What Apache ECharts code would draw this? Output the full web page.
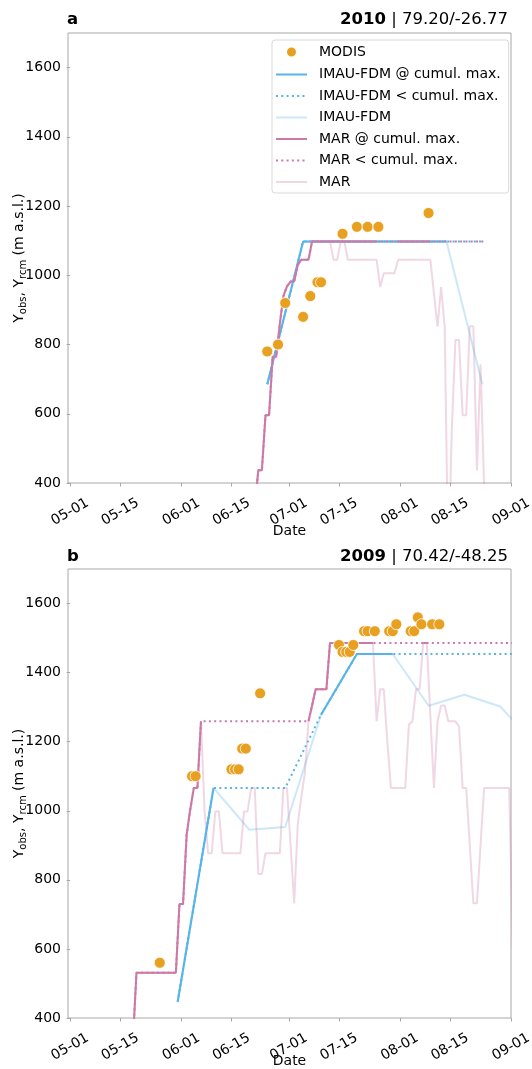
<!DOCTYPE html>
<html><head><meta charset="utf-8">
<script src="https://cdn.jsdelivr.net/npm/echarts@6/dist/echarts.min.js"></script>
<style>html,body{margin:0;padding:0;background:#fff}#c{width:532px;height:1069px}</style>
</head><body><div id="c"></div>
<script>
const FONT = 'DejaVu Sans';
const DAY = 86400000;
const TOL = 60; // a model day counts as "at cumul. max." when within this many metres of it

// ---------------- panel a : 2010 ----------------
const aYear = 2010;
const aLetter = 'a';
const aCoords = '79.20/-26.77';
const aModisDates = ['06-25','06-28','06-30','07-05','07-07','07-09','07-10','07-16','07-20','07-23','07-26','08-09'];
const aModisElev  = [780, 800, 920, 880, 940, 980, 980, 1120, 1140, 1140, 1140, 1180];
const aImauDates  = ['06-25','07-05','07-15','07-25','08-04','08-14','08-24'];
const aImauElev   = [685, 1098, 1098, 1098, 1098, 1098, 685];
const aImauCumMax = [685, 1098, 1098, 1098, 1098, 1098, 1098];
const aMarFirstDay = '06-21';
const aMarElev = [330,437,437,596,596,765,765,860,940,968,982,982,1030,1045,1045,1045,
  1098,1098,1098,1098,1098,1098, 1045,1045, 1098,1098,
  1045,1045,1045,1045,1045,1045,1045,1045,1045,
  966,1006,1006,1006,1006,
  1045,1045,1045,1045,1045,1045,1045,1045,1045,1045,
  948,852,966,852,150,560,813,813,596,596,853,853,436,743,390];
const aMarCumMax = [330,437,437,596,596,765,765,860,940,968,982,982,1030,1045,1045,1045,
  1098,1098,1098,1098,1098,1098,1098,1098,1098,1098,
  1098,1098,1098,1098,1098,1098,1098,1098,1098,
  1098,1098,1098,1098,1098,
  1098,1098,1098,1098,1098,1098,1098,1098,1098,1098,
  1098,1098,1098,1098,1098,1098,1098,1098,1098,1098,1098,1098,1098,1098,1098];

// ---------------- panel b : 2009 ----------------
const bYear = 2009;
const bLetter = 'b';
const bCoords = '70.42/-48.25';
const bModisDates = ['05-26','06-04','06-05','06-15','06-16','06-17','06-18','06-19','06-23',
  '07-15','07-16','07-17','07-18','07-19','07-22','07-23','07-25','07-29','07-30','07-31',
  '08-04','08-05','08-06','08-07','08-10','08-12'];
const bModisElev = [560,1100,1100,1120,1120,1120,1180,1180,1340,
  1480,1460,1460,1460,1480,1520,1520,1520,1520,1520,1540,
  1520,1520,1560,1540,1540,1540];
const bImauDates  = ['05-31','06-10','06-20','06-30','07-10','07-20','07-30','08-09','08-19','08-29','09-08'];
const bImauElev   = [447,1066,945,953,1278,1454,1454,1304,1336,1302,1190];
const bImauCumMax = [447,1066,1066,1066,1278,1454,1454,1454,1454,1454,1454];
const bMarFirstDay = '05-18';
const bMarElev = [330,
  531,531,531,531,531,531,531,531,531,531,531,531,
  730,730,930,1003,1066,1066,1259,
  1000,877,877,998,998,877,877,877,877,877,877,
  998,998,1066,1066,817,817,877,877,877,877,877,
  1066,1066,900,732,960,1040,1110,1259,
  1305,1352,1352,1352,1352,
  1486,1486,1486,1486,1486,1486,1486,1486,1486,1486,1486,1486,1486,
  1259,1352,1352,1200,1066,1066,1066,1066,1066,
  1249,1259,1352,1352,1486,1486,1276,1066,
  1259,1305,1305,1259,1259,1259,1244,1066,1066,
  900,732,732,900,1066,
  1066,1066,1066,1066,1066,1066,1066,
  600];
const bMarCumMax = [330,
  531,531,531,531,531,531,531,531,531,531,531,531,
  730,730,930,1003,1066,1066,
  1259,1259,1259,1259,1259,1259,1259,1259,1259,1259,1259,1259,1259,1259,1259,1259,
  1259,1259,1259,1259,1259,1259,1259,1259,1259,1259,1259,1259,1259,1259,1259,
  1305,1352,1352,1352,1352,
  1486,1486,1486,1486,1486,1486,1486,1486,1486,1486,1486,1486,1486,
  1486,1486,1486,1486,1486,1486,1486,1486,1486,1486,1486,1486,1486,
  1486,1486,1486,1486,1486,1486,1486,1486,1486,1486,1486,1486,1486,
  1486,1486,1486,1486,1486,1486,1486,1486,1486,1486,1486,1486,1486];

// ---------------- axes ----------------
const xTickDates = ['05-01','05-15','06-01','06-15','07-01','07-15','08-01','08-15','09-01'];
const yTicks = [400,600,800,1000,1200,1400,1600];
const legendNames = ['MODIS','IMAU-FDM @ cumul. max.','IMAU-FDM < cumul. max.','IMAU-FDM',
  'MAR @ cumul. max.','MAR < cumul. max.','MAR'];

const C_MODIS = '#e8a020', C_IMAU = '#56b4e9', C_MAR = '#cc79a7';
const C_IMAU_L = 'rgba(86,180,233,0.3)', C_MAR_L = 'rgba(204,121,167,0.3)';
const DOT = [2, 3.3];

const panels = [
  {year:aYear, letter:aLetter, coords:aCoords, modisDates:aModisDates, modisElev:aModisElev,
   imauDates:aImauDates, imauElev:aImauElev, imauMax:aImauCumMax,
   marFirst:aMarFirstDay, marElev:aMarElev, marMax:aMarCumMax,
   grid:{left:68, top:33, width:443, height:450}, titleTop:11, dateGap:41},
  {year:bYear, letter:bLetter, coords:bCoords, modisDates:bModisDates, modisElev:bModisElev,
   imauDates:bImauDates, imauElev:bImauElev, imauMax:bImauCumMax,
   marFirst:bMarFirstDay, marElev:bMarElev, marMax:bMarCumMax,
   grid:{left:68, top:569, width:443, height:449}, titleTop:548, dateGap:36}
];

const pad = n => (n < 10 ? '0' : '') + n;
const grids = [], xAxes = [], yAxes = [], titles = [], series = [];

panels.forEach((p, i) => {
  const t0 = Date.UTC(p.year, 4, 1);
  // x position = days since 05-01 of the panel's year
  const dd = s => { const [m, d] = s.split('-').map(Number); return (Date.UTC(p.year, m - 1, d) - t0) / DAY; };
  const marD0 = dd(p.marFirst);
  const marX = p.marElev.map((_, k) => marD0 + k + 0.5);
  const imauX = p.imauDates.map(dd);
  const pair = (x, arr) => arr.map((v, k) => [x[k], v]);
  const atMax = (x, raw, mx) => mx.map((v, k) => [x[k], raw[k] >= v - TOL ? v : null]);

  grids.push(Object.assign({show:true, borderColor:'#a8a8a8', borderWidth:1, containLabel:false, outerBoundsMode:'none'}, p.grid));
  const xt = xTickDates.map(dd);
  xAxes.push({
    type:'value', gridIndex:i,
    min: -0.6, max: dd('09-01'),
    name:'Date', nameLocation:'middle', nameGap:p.dateGap, nameMoveOverlap:false,
    nameTextStyle:{fontFamily:FONT, fontSize:14, color:'#000'},
    axisLine:{show:false},
    axisTick:{show:true, length:3.5, lineStyle:{color:'#a8a8a8'}, customValues:xt},
    splitLine:{show:false},
    axisLabel:{customValues:xt, rotate:30, align:'center', verticalAlign:'middle', margin:29,
      fontFamily:FONT, fontSize:14, color:'#000', hideOverlap:false,
      formatter: v => { const d = new Date(t0 + Math.round(v) * DAY); return pad(d.getUTCMonth() + 1) + '-' + pad(d.getUTCDate()); }}
  });
  yAxes.push({
    type:'value', gridIndex:i, min:400, max:1700, interval:200,
    name:'{m|Y}{s|obs}{m|, Y}{s|rcm}{m| (m a.s.l.)}', nameLocation:'middle', nameGap:40, nameRotate:90,
    nameMoveOverlap:false,
    nameTextStyle:{fontFamily:FONT, fontSize:14, color:'#000',
      rich:{m:{fontFamily:FONT, fontSize:14, lineHeight:18, color:'#000', verticalAlign:'middle'},
            s:{fontFamily:FONT, fontSize:10, lineHeight:8, color:'#000', verticalAlign:'bottom'}}},
    axisLine:{show:false},
    axisTick:{show:true, length:3.5, lineStyle:{color:'#a8a8a8'}, customValues:yTicks},
    splitLine:{show:false},
    axisLabel:{customValues:yTicks, margin:7, fontFamily:FONT, fontSize:14, color:'#000',
      formatter: v => String(v)}
  });
  titles.push({text:p.letter, left:67, top:p.titleTop, padding:0,
    textStyle:{fontFamily:FONT, fontSize:16.5, fontWeight:'bold', color:'#000'}});
  titles.push({text:'{y|' + p.year + '} | ' + p.coords, right:24, top:p.titleTop, padding:0,
    textStyle:{fontFamily:FONT, fontSize:16.5, fontWeight:'normal', color:'#000',
      rich:{y:{fontFamily:FONT, fontSize:16.5, fontWeight:'bold', color:'#000'}}}});

  const line = (name, data, color, dashed, z) => ({
    type:'line', name, data, xAxisIndex:i, yAxisIndex:i, z,
    showSymbol:false, symbol:'none', connectNulls:false, clip:true, silent:true,
    itemStyle:{color, opacity:0}, lineStyle:{color, width:2, type: dashed ? DOT : 'solid', cap:'butt'}
  });
  series.push(line('IMAU-FDM', pair(imauX, p.imauElev), C_IMAU_L, false, 1));
  series.push(line('MAR', pair(marX, p.marElev), C_MAR_L, false, 1));
  series.push(line('IMAU-FDM < cumul. max.', pair(imauX, p.imauMax), C_IMAU, true, 2));
  series.push(line('IMAU-FDM @ cumul. max.', atMax(imauX, p.imauElev, p.imauMax), C_IMAU, false, 3));
  series.push(line('MAR < cumul. max.', pair(marX, p.marMax), C_MAR, true, 4));
  series.push(line('MAR @ cumul. max.', atMax(marX, p.marElev, p.marMax), C_MAR, false, 5));
  series.push({type:'scatter', name:'MODIS', xAxisIndex:i, yAxisIndex:i, z:6, silent:true,
    data: pair(p.modisDates.map(dd), p.modisElev), symbol:'circle', symbolSize:11,
    itemStyle:{color:C_MODIS, borderColor:'#fff', borderWidth:0.8, opacity:1}});
});

const chart = echarts.init(document.getElementById('c'), null, {renderer:'canvas'});
chart.setOption({
  animation:false, backgroundColor:'#fff',
  textStyle:{fontFamily:FONT},
  title:titles, grid:grids, xAxis:xAxes, yAxis:yAxes, series,
  legend:{
    orient:'vertical', left:272, top:40, selectedMode:false,
    padding:[4,8,4,3], itemGap:7.5, itemWidth:31, itemHeight:14,
    borderColor:'#d9d9d9', borderWidth:1, borderRadius:3, backgroundColor:'rgba(255,255,255,0.85)',
    textStyle:{fontFamily:FONT, fontSize:14, color:'#000', padding:[0,0,0,7]},
    data: legendNames.map(n => n === 'MODIS'
      ? {name:n, icon:'path://M0,0M14,14M1.5,7A5.5,5.5,0,1,1,12.5,7A5.5,5.5,0,1,1,1.5,7Z'}
      : {name:n, itemStyle:{opacity:0}})
  }
});
</script></body></html>
